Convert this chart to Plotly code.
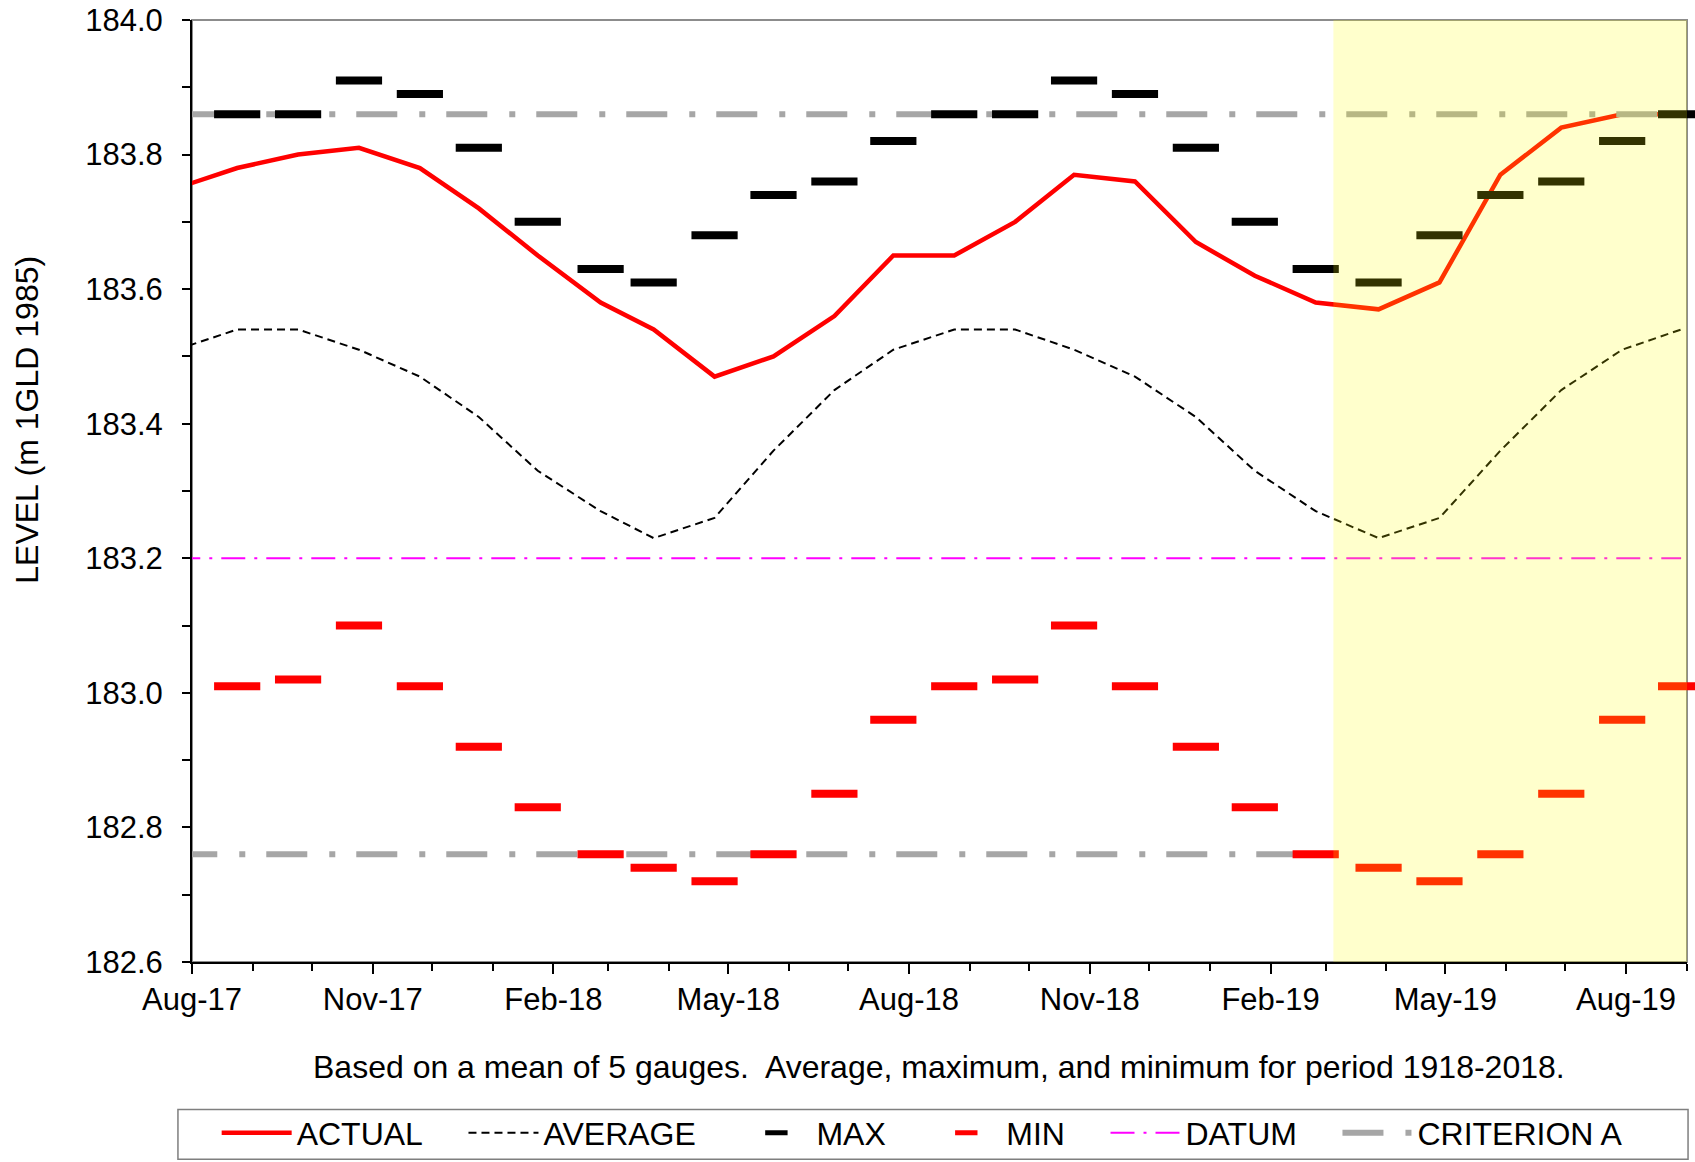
import plotly.graph_objects as go

# ---- data ----
dates = ["2017-07-24", "2017-08-24", "2017-09-24", "2017-10-25", "2017-11-25", "2017-12-25",
         "2018-01-24", "2018-02-25", "2018-03-24", "2018-04-24", "2018-05-24", "2018-06-24",
         "2018-07-24", "2018-08-24", "2018-09-24", "2018-10-24", "2018-11-24", "2018-12-25",
         "2019-01-24", "2019-02-24", "2019-03-28", "2019-04-28", "2019-05-29", "2019-06-29",
         "2019-07-30", "2019-08-29"]

actual = [183.75, 183.78, 183.80, 183.81, 183.78, 183.72, 183.65, 183.58, 183.54, 183.47,
          183.50, 183.56, 183.65, 183.65, 183.70, 183.77, 183.76, 183.67, 183.62, 183.58,
          183.57, 183.61, 183.77, 183.84, 183.86, 183.86]

average = [183.51, 183.54, 183.54, 183.51, 183.47, 183.41, 183.33, 183.27, 183.23, 183.26,
           183.36, 183.45, 183.51, 183.54, 183.54, 183.51, 183.47, 183.41, 183.33, 183.27,
           183.23, 183.26, 183.36, 183.45, 183.51, 183.54]

maximum = [None, 183.86, 183.86, 183.91, 183.89, 183.81, 183.70, 183.63, 183.61, 183.68,
           183.74, 183.76, 183.82, 183.86, 183.86, 183.91, 183.89, 183.81, 183.70, 183.63,
           183.61, 183.68, 183.74, 183.76, 183.82, 183.86]

minimum = [None, 183.01, 183.02, 183.10, 183.01, 182.92, 182.83, 182.76, 182.74, 182.72,
           182.76, 182.85, 182.96, 183.01, 183.02, 183.10, 183.01, 182.92, 182.83, 182.76,
           182.74, 182.72, 182.76, 182.85, 182.96, 183.01]

datum_level = 183.20
datum_dates = ["2017-07-24", "2019-08-29"]

criterion_upper = 183.86
criterion_upper_dates = ["2017-07-24", "2019-08-29"]
criterion_lower = 182.76
criterion_lower_dates = ["2017-07-24", "2019-02-24"]

highlight_start = "2019-03-05"
x_range = ["2017-08-01", "2019-09-01"]
y_range = [182.6, 184.0]

legend_names = ["ACTUAL", "AVERAGE", "MAX", "MIN", "DATUM", "CRITERION A"]
caption = "Based on a mean of 5 gauges.\u00a0 Average, maximum, and minimum for period 1918-2018."
y_title = "LEVEL (m 1GLD 1985)"

FONT = "Liberation Sans, Arial, sans-serif"
PAD = "\u00a0\u00a0\u00a0\u00a0"

fig = go.Figure()

fig.add_trace(go.Scatter(x=[datum_dates[0], datum_dates[1]], y=[datum_level, datum_level],
                         mode="lines", name=legend_names[4] + PAD, legendrank=5,
                         line=dict(color="#FF00FF", width=2, dash="24px,9px,3px,9px")))
fig.add_trace(go.Scatter(x=dates, y=average, mode="lines", name=legend_names[1] + PAD, legendrank=2,
                         line=dict(color="black", width=2, dash="8px,5px")))
fig.add_trace(go.Scatter(x=dates, y=actual, mode="lines", name=legend_names[0] + PAD, legendrank=1,
                         line=dict(color="#FF0000", width=4.5)))
fig.add_trace(go.Scatter(x=criterion_upper_dates, y=[criterion_upper, criterion_upper],
                         mode="lines", name=legend_names[5], legendrank=6,
                         line=dict(color="#A6A6A6", width=6, dash="41px,22px,6px,21px")))
fig.add_trace(go.Scatter(x=criterion_lower_dates, y=[criterion_lower, criterion_lower],
                         mode="lines", name=legend_names[5], showlegend=False,
                         line=dict(color="#A6A6A6", width=6, dash="41px,22px,6px,21px")))
fig.add_trace(go.Scatter(x=dates, y=maximum, mode="markers", name=legend_names[2] + PAD, legendrank=3,
                         cliponaxis=False,
                         marker=dict(symbol="line-ew", size=33, color="black",
                                     line=dict(color="black", width=8))))
fig.add_trace(go.Scatter(x=dates, y=minimum, mode="markers", name=legend_names[3] + PAD, legendrank=4,
                         cliponaxis=False,
                         marker=dict(symbol="line-ew", size=33, color="#FF0000",
                                     line=dict(color="#FF0000", width=8))))

# plot frame (grey top/right)
fig.add_shape(type="rect", xref="paper", yref="paper", x0=0, x1=1, y0=0, y1=1,
              line=dict(color="#8C8C8C", width=2), layer="below")
# highlighted period overlay
fig.add_shape(type="rect", xref="x", yref="paper", x0=highlight_start, x1=x_range[1], y0=0, y1=1,
              fillcolor="rgba(255,255,0,0.2)", line=dict(width=0), layer="above")
# legend box
fig.add_shape(type="rect", xref="paper", yref="paper", x0=-0.0094, x1=1.0007, y0=-0.1565, y1=-0.2095,
              line=dict(color="#7F7F7F", width=1.5), layer="below")

fig.add_annotation(text=caption, xref="paper", yref="paper", x=0.4994, y=-0.1119,
                   xanchor="center", yanchor="middle", showarrow=False,
                   font=dict(family=FONT, size=32, color="black"))
fig.add_annotation(text=y_title, xref="paper", yref="paper", x=-0.1106, y=0.5753,
                   xanchor="center", yanchor="middle", textangle=-90, showarrow=False,
                   font=dict(family=FONT, size=32, color="black"))

fig.update_layout(
    width=1695, height=1162,
    margin=dict(l=192.4, r=7.7, t=19.5, b=199.5, autoexpand=False),
    paper_bgcolor="white", plot_bgcolor="white",
    font=dict(family=FONT, size=32, color="black"),
    showlegend=True,
    legend=dict(orientation="h", x=0.0165, xanchor="left", y=-0.1815, yanchor="middle",
                itemwidth=70, traceorder="normal", bgcolor="rgba(0,0,0,0)", borderwidth=0,
                font=dict(family=FONT, size=32, color="black")),
    xaxis=dict(type="date", range=x_range, showgrid=False, zeroline=False,
               showline=True, linecolor="black", linewidth=2,
               ticks="outside", ticklen=10, tickwidth=1.5, tickcolor="black",
               dtick="M3", tick0="2017-08-01", tickformat="%b-%y",
               ticklabelstandoff=-1, ticklabeloverflow="allow",
               minor=dict(dtick="M1", ticks="outside", ticklen=7, tickwidth=1.5, tickcolor="black",
                          showgrid=False),
               tickfont=dict(family=FONT, size=31, color="black")),
    yaxis=dict(range=y_range, showgrid=False, zeroline=False,
               showline=True, linecolor="black", linewidth=2,
               ticks="outside", ticklen=8, tickwidth=1.5, tickcolor="black",
               dtick=0.2, tick0=182.6, tickformat=".1f",
               ticklabelstandoff=13, ticklabeloverflow="allow",
               minor=dict(dtick=0.1, ticks="outside", ticklen=8, tickwidth=1.5, tickcolor="black",
                          showgrid=False),
               tickfont=dict(family=FONT, size=31, color="black")),
)

# remove the default page margin so the figure fills the window exactly
fig.write_html("out.html", config={"displayModeBar": False},
               post_script="document.body.style.margin='0px';")
